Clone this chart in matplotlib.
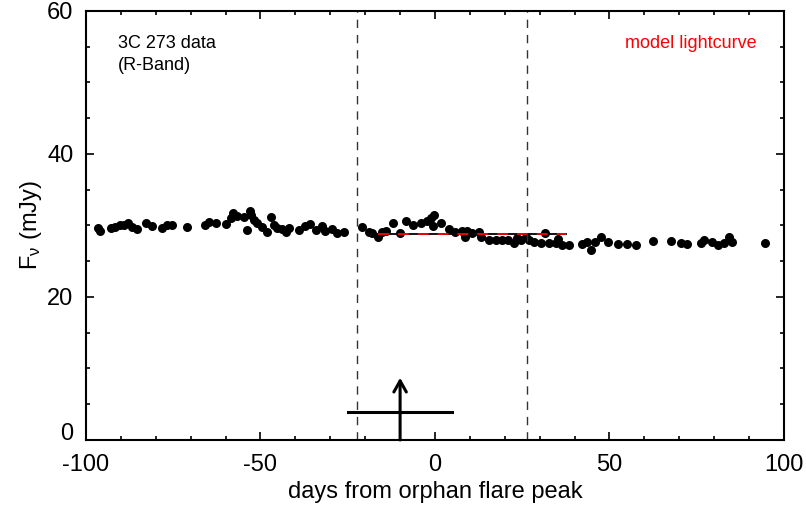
import numpy as np
import matplotlib
matplotlib.use('Agg')
import matplotlib.pyplot as plt
import matplotlib.transforms as mtransforms
from matplotlib.ticker import MultipleLocator

plt.rcParams['font.family'] = ['Liberation Sans', 'DejaVu Sans']
plt.rcParams['mathtext.fontset'] = 'custom'
plt.rcParams['mathtext.rm'] = 'Liberation Sans'
plt.rcParams['mathtext.it'] = 'Liberation Sans'
plt.rcParams['axes.unicode_minus'] = False

# 3C 273 R-band data (days from orphan flare peak, flux in mJy)
days = [-96.7, -95.9, -92.7, -91.8, -90.4, -89.0, -88.1, -86.7, -85.3, -82.7,
        -81.0, -78.1, -76.7, -75.3, -71.0, -65.8, -64.7, -62.7, -59.8, -58.4,
        -57.8, -56.7, -54.6, -52.9, -52.6, -53.8, -51.8, -50.9, -49.5, -48.1,
        -46.9, -46.1, -45.2, -43.8, -42.6, -41.8, -38.9, -37.2, -35.8, -34.0,
        -32.3, -31.5, -29.5, -28.0, -26.0,
        -20.9, -18.9, -18.0, -16.3, -15.2, -14.0, -12.0, -10.0, -8.3, -6.3,
        -4.0, -2.3, -1.1, -0.3, -0.6, 1.7, 4.0, 5.7, 7.7, 8.6,
        9.2, 10.6, 12.6, 13.2, 15.5, 17.5, 19.2, 20.9, 22.6, 23.5,
        24.6, 26.0, 26.9, 28.3, 30.3, 31.5, 32.6, 34.6, 35.2, 36.3,
        38.3, 42.1, 43.5, 44.6, 45.8, 47.5, 49.5, 52.4, 54.9, 57.5,
        62.4, 67.5, 70.4, 72.1, 76.1, 77.0, 79.3, 81.0, 82.7, 84.1,
        85.0, 94.7]
flux = [29.65, 29.2, 29.65, 29.8, 30.1, 30.1, 30.3, 29.8, 29.5, 30.3,
        29.9, 29.65, 30.1, 30.1, 29.8, 30.1, 30.5, 30.3, 30.2, 31.0,
        31.7, 31.3, 31.2, 32.0, 31.5, 29.4, 30.8, 30.3, 29.8, 29.1,
        31.2, 30.1, 29.65, 29.5, 29.1, 29.65, 29.4, 29.9, 30.2, 29.4,
        29.9, 29.2, 29.5, 29.0, 29.1,
        29.8, 29.1, 29.0, 28.4, 29.1, 29.2, 30.3, 29.0, 30.6, 30.1,
        30.3, 30.6, 31.0, 31.5, 29.9, 30.3, 29.5, 29.1, 29.2, 28.4,
        29.2, 29.0, 29.1, 28.4, 28.0, 28.0, 28.0, 28.0, 27.6, 28.3,
        28.0, 28.4, 28.0, 27.7, 27.6, 29.0, 27.6, 27.6, 28.1, 27.3,
        27.3, 27.4, 27.7, 26.6, 27.7, 28.4, 27.7, 27.4, 27.4, 27.3,
        27.8, 27.8, 27.6, 27.4, 27.6, 28.0, 27.7, 27.3, 27.6, 28.4,
        27.7, 27.6]

# model lightcurve
model_days = [-16.3, 37.4]
model_flux = [28.8, 28.8]

# window edges and orphan-flare marker
window = [-22.3, 26.3]
marker_day = -10.0
marker_range = [-25.0, 5.0]
marker_level = 3.9
marker_top = 8.7

fig = plt.figure(figsize=(8.06, 5.08), dpi=100)
ax = fig.add_axes([0.1067, 0.1339, 0.866, 0.8445])

ax.plot(days, flux, 'o', color='black', markersize=6.5, markeredgewidth=0)

ax.plot(model_days, model_flux, '-', color='black', lw=1.3)
ax.plot(model_days, model_flux, '-', color='red', lw=1.3, dashes=(6, 5))

for w in window:
    ax.axvline(w, color='#333333', lw=1.0, dashes=(6, 5))

ax.plot(marker_range, [marker_level, marker_level], color='black', lw=2.2)
ax.annotate('', xy=(marker_day, marker_top), xytext=(marker_day, 0),
            arrowprops=dict(arrowstyle='->,head_length=0.8,head_width=0.45',
                            color='black', lw=2.2, shrinkA=0, shrinkB=0))

ax.text(0.046, 0.945, '3C 273 data\n(R-Band)', transform=ax.transAxes,
        fontsize=13, va='top', ha='left', linespacing=1.4)
ax.text(0.961, 0.945, 'model lightcurve', transform=ax.transAxes,
        fontsize=13, va='top', ha='right', color='red')

ax.set_xlim(-100, 100)
ax.set_ylim(0, 60)
ax.xaxis.set_major_locator(MultipleLocator(50))
ax.xaxis.set_minor_locator(MultipleLocator(10))
ax.yaxis.set_major_locator(MultipleLocator(20))
ax.yaxis.set_minor_locator(MultipleLocator(5))
ax.tick_params(which='both', direction='in', top=True, right=True, width=1.2)
ax.tick_params(which='major', length=6, labelsize=17)
ax.tick_params(axis='x', which='major', pad=10)
ax.tick_params(axis='y', which='major', pad=9)
ax.tick_params(which='minor', length=3)
for s in ax.spines.values():
    s.set_linewidth(1.5)

ax.set_xlabel('days from orphan flare peak', fontsize=17, labelpad=4)
ax.set_ylabel(r'F$_{\mathrm{\nu}}$ (mJy)', fontsize=17, labelpad=2)

# lift the "0" y label a little, as in the original
fig.canvas.draw()
for lab in ax.get_yticklabels():
    if lab.get_text() == '0':
        lab.set_transform(lab.get_transform() +
                          mtransforms.ScaledTranslation(0, 6 / 72, fig.dpi_scale_trans))

fig.savefig('out.png', dpi=100)
